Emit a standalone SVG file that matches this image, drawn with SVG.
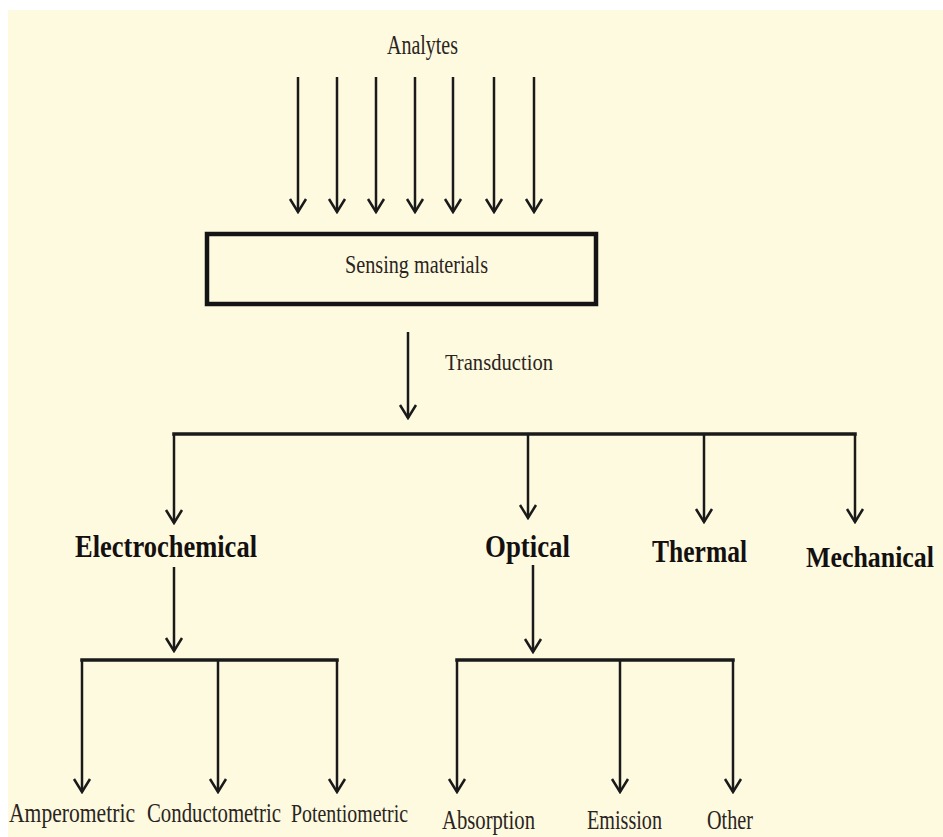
<svg xmlns="http://www.w3.org/2000/svg" width="943" height="837" viewBox="0 0 943 837">
<defs>
<style>
.t{font-family:"Liberation Serif","DejaVu Serif",serif;fill:#2a2420;}
.b{font-family:"Liberation Serif","DejaVu Serif",serif;font-weight:bold;fill:#141010;}
.bar{stroke:#1a1a1a;stroke-width:3.5;fill:none;stroke-linecap:square;}
.ar{stroke:#1a1a1a;stroke-width:2.5;fill:none;marker-end:url(#ah);}
</style>
<marker id="ah" viewBox="-15 -10 17 20" refX="0" refY="0" markerWidth="17" markerHeight="20" markerUnits="userSpaceOnUse" orient="auto">
<path d="M-13,-8 L0,0 L-13,8" fill="none" stroke="#1a1a1a" stroke-width="2.5"/>
</marker>
</defs>
<rect x="0" y="0" width="943" height="837" fill="#ffffff"/>
<rect x="8" y="10" width="935" height="827" fill="#fefae0"/>

<g id="connectors">
<line class="ar" x1="298" y1="77" x2="298" y2="212"/>
<line class="ar" x1="337" y1="77" x2="337" y2="212"/>
<line class="ar" x1="376" y1="77" x2="376" y2="212"/>
<line class="ar" x1="415" y1="77" x2="415" y2="212"/>
<line class="ar" x1="453" y1="77" x2="453" y2="212"/>
<line class="ar" x1="494" y1="77" x2="494" y2="212"/>
<line class="ar" x1="534" y1="77" x2="534" y2="212"/>
<line class="ar" x1="408" y1="332" x2="408" y2="418"/>
<line class="bar" x1="174" y1="434" x2="855" y2="434"/>
<line class="ar" x1="174" y1="434" x2="174" y2="523"/>
<line class="ar" x1="528" y1="434" x2="528" y2="518"/>
<line class="ar" x1="704" y1="434" x2="704" y2="522"/>
<line class="ar" x1="855" y1="434" x2="855" y2="522"/>
<line class="ar" x1="174" y1="567" x2="174" y2="651"/>
<line class="bar" x1="82" y1="660" x2="337" y2="660"/>
<line class="ar" x1="82" y1="660" x2="82" y2="792"/>
<line class="ar" x1="218" y1="660" x2="218" y2="792"/>
<line class="ar" x1="337" y1="660" x2="337" y2="792"/>
<line class="ar" x1="533" y1="565" x2="533" y2="652"/>
<line class="bar" x1="457" y1="660" x2="733" y2="660"/>
<line class="ar" x1="457" y1="660" x2="457" y2="792"/>
<line class="ar" x1="620" y1="660" x2="620" y2="792"/>
<line class="ar" x1="733" y1="660" x2="733" y2="792"/>
</g>

<g id="analytes"><text class="t" x="387" y="54" font-size="27" textLength="71" lengthAdjust="spacingAndGlyphs">Analytes</text></g>
<g id="sensing">
<rect x="207" y="234" width="389" height="70" fill="none" stroke="#141414" stroke-width="4.5"/>
<text class="t" x="345" y="273" font-size="25" textLength="143" lengthAdjust="spacingAndGlyphs">Sensing materials</text>
</g>
<g id="transduction"><text class="t" x="445" y="370" font-size="23" textLength="108" lengthAdjust="spacingAndGlyphs">Transduction</text></g>
<g id="electrochemical"><text class="b" x="75" y="557" font-size="32" textLength="182" lengthAdjust="spacingAndGlyphs">Electrochemical</text></g>
<g id="optical"><text class="b" x="485" y="557" font-size="32" textLength="85" lengthAdjust="spacingAndGlyphs">Optical</text></g>
<g id="thermal"><text class="b" x="652" y="562" font-size="32" textLength="95" lengthAdjust="spacingAndGlyphs">Thermal</text></g>
<g id="mechanical"><text class="b" transform="translate(806,567) scale(1,1.15)" x="0" y="0" font-size="26" textLength="128" lengthAdjust="spacingAndGlyphs">Mechanical</text></g>
<g id="amperometric"><text class="t" transform="translate(9,822) scale(1,1.3)" x="0" y="0" font-size="21" textLength="126" lengthAdjust="spacingAndGlyphs">Amperometric</text></g>
<g id="conductometric"><text class="t" transform="translate(147,822) scale(1,1.3)" x="0" y="0" font-size="21" textLength="134" lengthAdjust="spacingAndGlyphs">Conductometric</text></g>
<g id="potentiometric"><text class="t" transform="translate(291,822) scale(1,1.3)" x="0" y="0" font-size="20" textLength="117" lengthAdjust="spacingAndGlyphs">Potentiometric</text></g>
<g id="absorption"><text class="t" x="442" y="829" font-size="28" textLength="93" lengthAdjust="spacingAndGlyphs">Absorption</text></g>
<g id="emission"><text class="t" x="587" y="829" font-size="28" textLength="75" lengthAdjust="spacingAndGlyphs">Emission</text></g>
<g id="other"><text class="t" x="707" y="829" font-size="28" textLength="46" lengthAdjust="spacingAndGlyphs">Other</text></g>
</svg>
